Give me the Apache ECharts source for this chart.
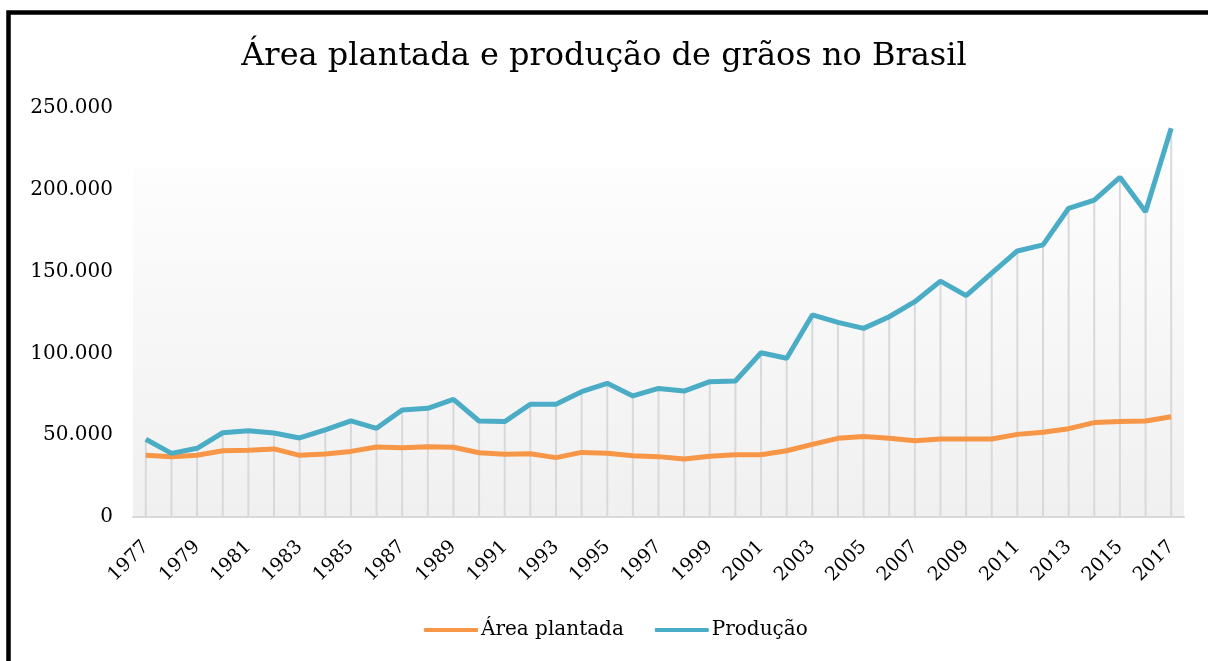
<!DOCTYPE html>
<html>
<head>
<meta charset="utf-8">
<script src="https://cdn.jsdelivr.net/npm/echarts@6/dist/echarts.min.js"></script>
<style>
html,body{margin:0;padding:0;background:#fff;}
#c{width:1208px;height:661px;}
</style>
</head>
<body>
<div id="c"></div>
<script>
const years = ['1977','1978','1979','1980','1981','1982','1983','1984','1985','1986','1987','1988','1989','1990','1991','1992','1993','1994','1995','1996','1997','1998','1999','2000','2001','2002','2003','2004','2005','2006','2007','2008','2009','2010','2011','2012','2013','2014','2015','2016','2017'];
const areaPlantada = [37700,36900,37700,40500,40800,41600,37700,38500,40100,42800,42400,43000,42600,39300,38300,38700,36300,39500,38900,37500,36900,35400,37100,38100,38100,40500,44400,48100,49200,48100,46600,47700,47700,47700,50500,51800,54000,57700,58300,58700,61300];
const producao = [47500,38900,42000,51500,52700,51300,48300,53200,58700,54200,65400,66400,71900,58700,58300,68900,68900,76600,81700,74000,78600,77000,82700,83100,100400,97000,123500,119000,115300,122400,131600,144200,135300,149000,162600,166300,188700,193700,207600,186600,237600];
const yTicks = [0,50000,100000,150000,200000,250000];

const FONT = '"DejaVu Serif", "Liberation Serif", serif';
const chart = echarts.init(document.getElementById('c'));
const fmt = v => v === 0 ? '0' : v.toLocaleString('de-DE');
chart.setOption({
  animation: false,
  backgroundColor: '#ffffff',
  title: {
    text: 'Área plantada e produção de grãos no Brasil',
    left: 'center', top: 36,
    textStyle: {fontFamily: FONT, fontSize: 32, fontWeight: 'normal', color: '#000'}
  },
  legend: {
    data: ['Área plantada', 'Produção'],
    bottom: 16, left: 419,
    itemWidth: 54, itemHeight: 4, itemGap: 31,
    icon: 'roundRect',
    textStyle: {fontFamily: FONT, fontSize: 20, color: '#000', padding: [0,0,0,-2]}
  },
  grid: {
    left: 133, right: 24, top: 108, bottom: 144,
    show: true, borderWidth: 0,
    backgroundColor: new echarts.graphic.LinearGradient(0, 0, 0, 1, [
      {offset: 0, color: '#ffffff'},
      {offset: 0.14, color: '#ffffff'},
      {offset: 0.15, color: '#fdfdfd'},
      {offset: 1, color: '#f0f0f0'}
    ])
  },
  xAxis: {
    type: 'category',
    data: years,
    axisLine: {lineStyle: {color: '#d9d9d9', width: 2}},
    axisTick: {show: false},
    axisLabel: {interval: 1, rotate: 45, fontFamily: FONT, fontSize: 19, color: '#000', margin: 27}
  },
  yAxis: {
    type: 'value', min: 0, max: 250000, interval: 50000,
    axisLine: {show: false}, axisTick: {show: false},
    splitLine: {show: false},
    axisLabel: {fontFamily: FONT, fontSize: 20, color: '#000', margin: 20, formatter: fmt}
  },
  series: [
    {
      name: 'drop', type: 'bar', data: producao, barWidth: 2,
      itemStyle: {color: '#d9d9d9'}, silent: true, z: 1
    },
    {
      name: 'Área plantada', type: 'line', data: areaPlantada,
      symbol: 'none', lineStyle: {color: '#f79646', width: 5}, itemStyle: {color: '#f79646'}, z: 3
    },
    {
      name: 'Produção', type: 'line', data: producao,
      symbol: 'none', lineStyle: {color: '#4bacc6', width: 5}, itemStyle: {color: '#4bacc6'}, z: 3
    }
  ],
  graphic: [
    {type: 'rect', shape: {x: 8.5, y: 12.5, width: 1220, height: 700}, style: {fill: 'none', stroke: '#000', lineWidth: 4.5}, silent: true}
  ]
});
</script>
</body>
</html>
